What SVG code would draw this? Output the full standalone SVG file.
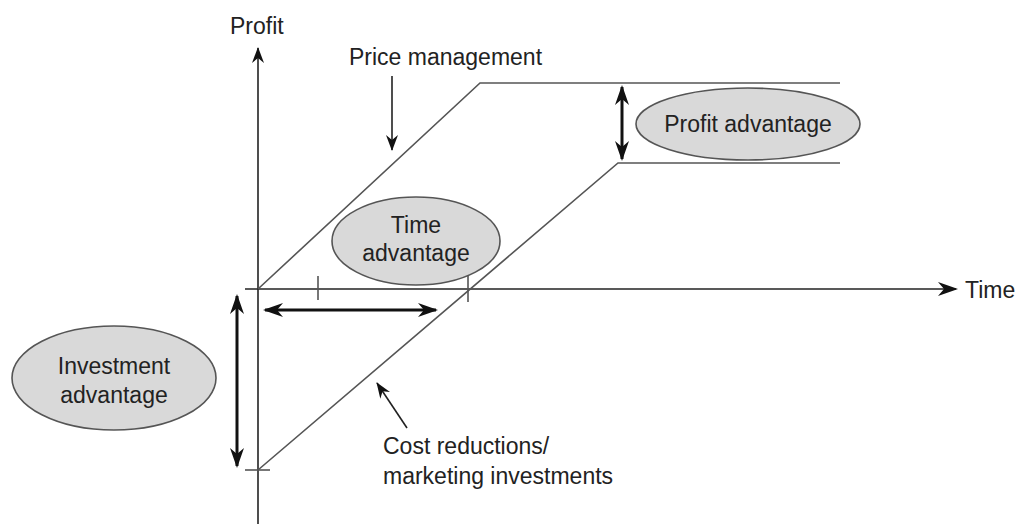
<svg xmlns="http://www.w3.org/2000/svg" width="1018" height="524" viewBox="0 0 1018 524">
<defs>
<marker id="ah" viewBox="0 0 20 14" refX="18" refY="7" markerWidth="20" markerHeight="14" markerUnits="userSpaceOnUse" orient="auto-start-reverse">
<path d="M0,0 L20,7 L0,14 L6,7 Z" fill="#111"/>
</marker>
<marker id="ahs" viewBox="0 0 16 12" refX="15" refY="6" markerWidth="16" markerHeight="12" markerUnits="userSpaceOnUse" orient="auto-start-reverse">
<path d="M0,0 L16,6 L0,12 L5,6 Z" fill="#111"/>
</marker>
</defs>
<style>
text{font-family:"Liberation Sans",Arial,sans-serif;font-size:23px;fill:#222}
.ax{stroke:#222;stroke-width:1.6;fill:none}
.ln{stroke:#555;stroke-width:1.6;fill:none}
.dbl{stroke:#111;stroke-width:3;fill:none}
.pt{stroke:#222;stroke-width:1.6;fill:none}
.el{fill:#d9d9d9;stroke:#555;stroke-width:1.6}
</style>
<rect width="1018" height="524" fill="#fff"/>
<g id="connectors">
<line class="ax" x1="258" y1="524" x2="258" y2="48" marker-end="url(#ahs)"/>
<line class="ax" x1="245" y1="289" x2="956" y2="289" marker-end="url(#ah)"/>
<line class="ln" x1="318" y1="276" x2="318" y2="300"/>
<line class="ln" x1="468" y1="276" x2="468" y2="302"/>
<line class="ln" x1="245" y1="470" x2="270" y2="470"/>
<polyline class="ln" points="258,289 480,83 840,83"/>
<polyline class="ln" points="258,470 618,163 840,163"/>
<line class="dbl" x1="265" y1="310" x2="436" y2="310" marker-start="url(#ah)" marker-end="url(#ah)"/>
<line class="dbl" x1="237" y1="296" x2="237" y2="466" marker-start="url(#ah)" marker-end="url(#ah)"/>
<line class="dbl" x1="622" y1="87" x2="622" y2="159" marker-start="url(#ah)" marker-end="url(#ah)"/>
<line class="pt" x1="392" y1="76" x2="392" y2="150" marker-end="url(#ahs)"/>
<line class="pt" x1="407" y1="428" x2="377" y2="383" marker-end="url(#ahs)"/>
</g>
<g id="profit-label"><text x="230" y="34">Profit</text></g>
<g id="time-label"><text x="965" y="298">Time</text></g>
<g id="price-management"><text x="349" y="65">Price management</text></g>
<g id="cost-reductions"><text x="383" y="454">Cost reductions/</text><text x="383" y="484">marketing investments</text></g>
<g id="profit-advantage"><ellipse class="el" cx="748" cy="124" rx="112" ry="36"/><text x="748" y="132" text-anchor="middle">Profit advantage</text></g>
<g id="time-advantage"><ellipse class="el" cx="416" cy="241" rx="84" ry="44"/><text x="416" y="233" text-anchor="middle">Time</text><text x="416" y="261" text-anchor="middle">advantage</text></g>
<g id="investment-advantage"><ellipse class="el" cx="114" cy="378" rx="102" ry="52"/><text x="114" y="374" text-anchor="middle">Investment</text><text x="114" y="403" text-anchor="middle">advantage</text></g>
</svg>
